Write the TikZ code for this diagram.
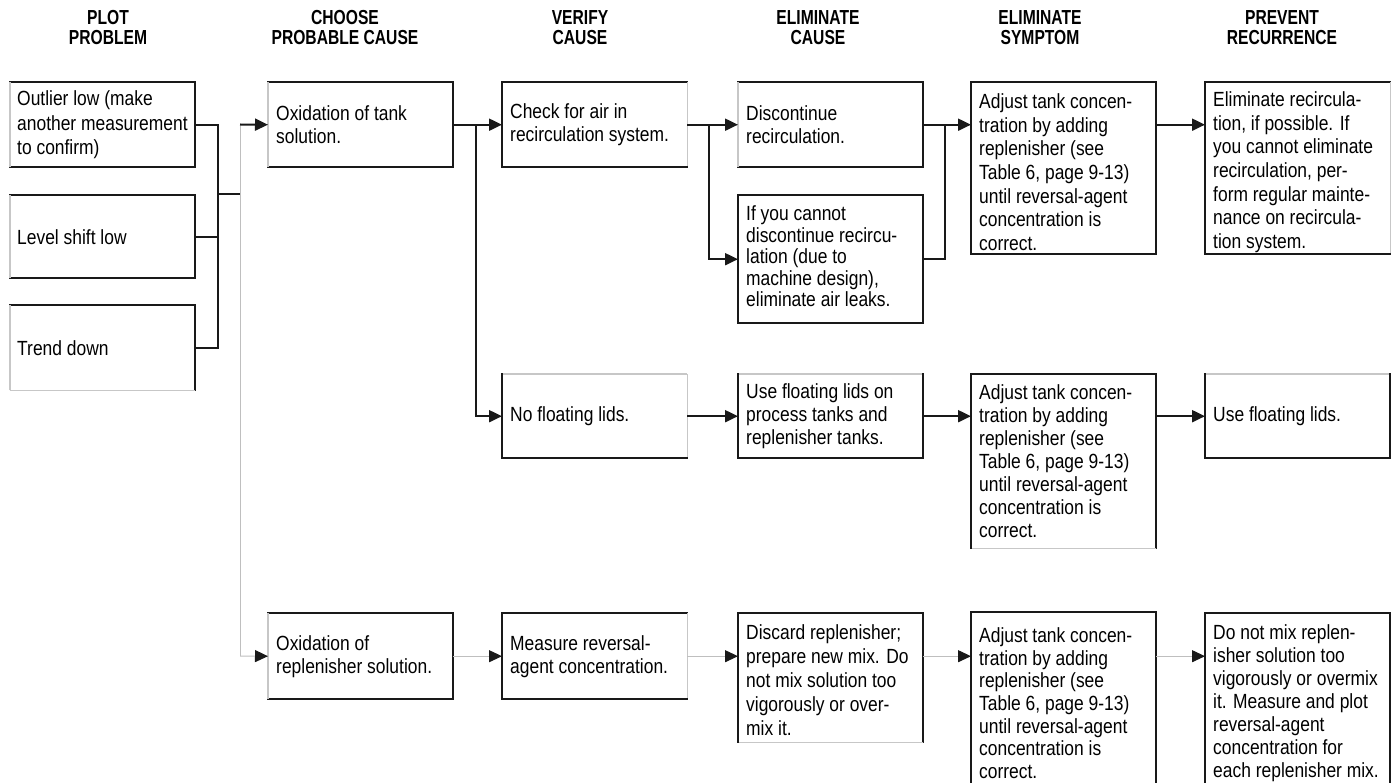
\documentclass[tikz,border=0pt]{standalone}
\usepackage{fontspec}
\setmainfont{Liberation Sans}[FakeStretch=0.85]
\newfontfamily\hdfont{Liberation Sans}[FakeStretch=0.77]
\usetikzlibrary{arrows.meta}
\tikzset{
 bx/.style={draw=none, minimum width=185pt, inner sep=0pt, anchor=north west},
 txt/.style={align=left, inner sep=0pt, anchor=west, font=\fontsize{20.5}{23}\selectfont},
 hd/.style={align=center, inner sep=0pt, font=\hdfont\bfseries\fontsize{20.3}{20}\selectfont},
 ek/.style={line width=2pt, black!90, line cap=rect},
 eg/.style={line width=1.2pt, black!22},
 en/.style={draw=none},
 wire/.style={line width=2pt, black!90},
 gwire/.style={line width=1pt, black!25},
 tip/.style={-{Triangle[length=13pt,width=12pt,color=black!90]}},
}
\newcommand\frameit[5]{%
 \draw[#2] (#1.north west) -- (#1.north east);
 \draw[#3] (#1.north east) -- (#1.south east);
 \draw[#4] (#1.south east) -- (#1.south west);
 \draw[#5] (#1.south west) -- (#1.north west);}
\begin{document}
\begin{tikzpicture}[x=1pt,y=-1pt]
\fill[white] (0,0) rectangle (1396,783);
\useasboundingbox (0,0) rectangle (1396,783);

% headers
\node[hd] (h1) at (108,28) {PLOT\\PROBLEM};
\node[hd] (h2) at (345,28) {CHOOSE\\PROBABLE CAUSE};
\node[hd] (h3) at (580,28) {VERIFY\\CAUSE};
\node[hd] (h4) at (818,28) {ELIMINATE\\CAUSE};
\node[hd] (h5) at (1040,28) {ELIMINATE\\SYMPTOM};
\node[hd] (h6) at (1282,28) {PREVENT\\RECURRENCE};

% boxes
\node[bx, minimum height=85pt] (outlier) at (10,82) {};
\node[bx, minimum height=83pt] (level) at (10,195) {};
\node[bx, minimum height=85pt] (trend) at (10,305) {};
\node[bx, minimum height=85pt] (oxtank) at (268,82) {};
\node[bx, minimum height=85pt] (check) at (502,82) {};
\node[bx, minimum height=85pt] (discont) at (738,82) {};
\node[bx, minimum height=128pt] (ifyou) at (738,195) {};
\node[bx, minimum height=172pt] (adjust1) at (971,82) {};
\node[bx, minimum height=172pt] (prevent1) at (1205,82) {};
\node[bx, minimum height=84pt] (nolids) at (502,374) {};
\node[bx, minimum height=84pt] (uselids) at (738,374) {};
\node[bx, minimum height=174pt] (adjust2) at (971,374) {};
\node[bx, minimum height=84pt] (prevent2) at (1205,374) {};
\node[bx, minimum height=86pt] (oxrep) at (268,613) {};
\node[bx, minimum height=86pt] (measure) at (502,613) {};
\node[bx, minimum height=129pt] (discard) at (738,613) {};
\node[bx, minimum height=172pt] (adjust3) at (971,612) {};
\node[bx, minimum height=172pt] (prevent3) at (1205,613) {};

% frames: top, right, bottom, left
\frameit{outlier}{ek}{ek}{ek}{eg}
\frameit{level}{ek}{ek}{ek}{eg}
\frameit{trend}{ek}{ek}{eg}{eg}
\frameit{oxtank}{ek}{ek}{ek}{eg}
\frameit{check}{ek}{eg}{ek}{ek}
\frameit{discont}{ek}{ek}{ek}{eg}
\frameit{ifyou}{ek}{ek}{ek}{ek}
\frameit{adjust1}{ek}{ek}{ek}{ek}
\frameit{prevent1}{ek}{eg}{ek}{ek}
\frameit{nolids}{eg}{eg}{ek}{ek}
\frameit{uselids}{eg}{ek}{ek}{ek}
\frameit{adjust2}{ek}{ek}{eg}{ek}
\frameit{prevent2}{eg}{ek}{ek}{ek}
\frameit{oxrep}{ek}{ek}{ek}{eg}
\frameit{measure}{ek}{eg}{ek}{ek}
\frameit{discard}{ek}{ek}{eg}{ek}
\frameit{adjust3}{ek}{ek}{en}{ek}
\frameit{prevent3}{ek}{ek}{en}{ek}

% texts
\node[txt, font=\fontsize{20.5}{24.5}\selectfont] (outliert) at ([xshift=7pt]outlier.west) {Outlier low (make\\another measurement\\to confirm)};
\node[txt] (levelt) at ([xshift=7pt]level.west) {Level shift low};
\node[txt] (trendt) at ([xshift=7pt]trend.west) {Trend down};
\node[txt] (oxtankt) at ([xshift=8pt]oxtank.west) {Oxidation of tank\\solution.};
\node[txt] (checkt) at ([xshift=8pt]check.west) {Check for air in\\recirculation system.};
\node[txt] (discontt) at ([xshift=8pt]discont.west) {Discontinue\\recirculation.};
\node[txt, font=\fontsize{20.5}{21.5}\selectfont] (ifyout) at ([xshift=8pt,yshift=3pt]ifyou.west) {If you cannot\\discontinue recircu-\\lation (due to\\machine design),\\eliminate air leaks.};
\node[txt, font=\fontsize{20.5}{23.7}\selectfont] (adjust1t) at ([xshift=8pt,yshift=-4pt]adjust1.west) {Adjust tank concen-\\tration by adding\\replenisher (see\\Table 6, page 9-13)\\until reversal-agent\\concentration is\\correct.};
\node[txt, font=\fontsize{20.5}{23.7}\selectfont] (prevent1t) at ([xshift=8pt,yshift=-4pt]prevent1.west) {Eliminate recircula-\\tion, if possible. If\\you cannot eliminate\\recirculation, per-\\form regular mainte-\\nance on recircula-\\tion system.};
\node[txt] (nolidst) at ([xshift=8pt]nolids.west) {No floating lids.};
\node[txt] (uselidst) at ([xshift=8pt]uselids.west) {Use floating lids on\\process tanks and\\replenisher tanks.};
\node[txt] (adjust2t) at ([xshift=8pt]adjust2.west) {Adjust tank concen-\\tration by adding\\replenisher (see\\Table 6, page 9-13)\\until reversal-agent\\concentration is\\correct.};
\node[txt] (prevent2t) at ([xshift=8pt]prevent2.west) {Use floating lids.};
\node[txt] (oxrept) at ([xshift=8pt]oxrep.west) {Oxidation of\\replenisher solution.};
\node[txt] (measuret) at ([xshift=8pt]measure.west) {Measure reversal-\\agent concentration.};
\node[txt, font=\fontsize{20.5}{24}\selectfont] (discardt) at ([xshift=8pt,yshift=-2pt]discard.west) {Discard replenisher;\\prepare new mix. Do\\not mix solution too\\vigorously or over-\\mix it.};
\node[txt, font=\fontsize{20.5}{22.7}\selectfont] (adjust3t) at ([xshift=8pt,yshift=-5pt]adjust3.west) {Adjust tank concen-\\tration by adding\\replenisher (see\\Table 6, page 9-13)\\until reversal-agent\\concentration is\\correct.};
\node[txt, font=\fontsize{20.5}{23}\selectfont] (prevent3t) at ([xshift=8pt,yshift=-4pt]prevent3.west) {Do not mix replen-\\isher solution too\\vigorously or overmix\\it. Measure and plot\\reversal-agent\\concentration for\\each replenisher mix.};

% column 1 connectors
\coordinate (bus) at (218,194);
\coordinate (split) at (240,194);
\coordinate (top1) at (240,124.5);
\coordinate (bot1) at (240,656);
\draw[wire] (outlier.east) -| (bus);
\draw[wire] (trend.east) -| (bus);
\draw[wire] (level.east) -- (level.east -| bus);
\draw[wire] (bus) -- (split);
\draw[gwire] (top1) -- (bot1);
\draw[wire,tip] (top1) -- (oxtank.west);
\draw[gwire,tip] (bot1) -- (oxrep.west);

% column 2
\coordinate (br2) at (476,124.5);
\draw[wire,tip] (oxtank.east) -- (check.west);
\draw[wire,tip] (br2) |- (nolids.west);

% column 3
\coordinate (br3) at (709,124.5);
\draw[wire,tip] (check.east) -- (discont.west);
\draw[wire,tip] (br3) |- (ifyou.west);

% merge to adjust1
\coordinate (mg) at (945,124.5);
\draw[wire] (ifyou.east) -| (mg);
\draw[wire,tip] (discont.east) -- (discont.east -| adjust1.west);
\draw[wire,tip] (adjust1.east |- discont.east) -- (prevent1.west |- discont.east);

% row 2
\draw[wire,tip] (nolids.east) -- (uselids.west);
\draw[wire,tip] (uselids.east) -- (uselids.east -| adjust2.west);
\draw[wire,tip] (adjust2.east |- uselids.east) -- (prevent2.west);

% row 3
\draw[gwire,tip] (oxrep.east) -- (measure.west);
\draw[gwire,tip] (measure.east) -- (measure.east -| discard.west);
\draw[gwire,tip] (discard.east |- measure.east) -- (adjust3.west |- measure.east);
\draw[gwire,tip] (adjust3.east |- measure.east) -- (prevent3.west |- measure.east);
\end{tikzpicture}
\end{document}
